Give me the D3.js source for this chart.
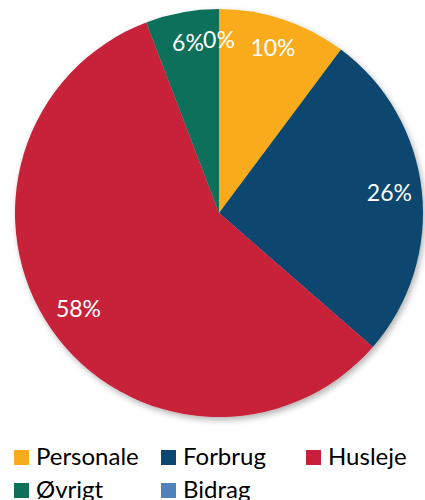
<!DOCTYPE html>
<html><head><meta charset="utf-8">
<script src="https://cdn.jsdelivr.net/npm/d3@7/dist/d3.min.js"></script>
<style>body{margin:0;background:#fff}svg{display:block}</style>
</head><body>
<script>
const categories = ["Personale","Forbrug","Husleje","Øvrigt","Bidrag"];
const values = [10.2, 26.2, 57.8, 5.8, 0];
const labels = ["10%","26%","58%","6%","0%"];
const colors = ["#F9AB1E","#0B4770","#C8203A","#0F705A","#4F81BD"];

const W=425,H=500, cx=219, cy=213, R=204;
const svg=d3.select("body").append("svg").attr("width",W).attr("height",H);
const defs=svg.append("defs");
const f=defs.append("filter").attr("id","sh").attr("x","-10%").attr("y","-10%").attr("width","130%").attr("height","130%");
f.append("feDropShadow").attr("dx",2).attr("dy",3).attr("stdDeviation",3).attr("flood-color","#000").attr("flood-opacity",0.3);

const data=categories.map((c,i)=>({c,v:values[i],l:labels[i],col:colors[i]}));
const pie=d3.pie().value(d=>d.v).sort(null);
const arcs=pie(data);
const arc=d3.arc().innerRadius(0).outerRadius(R);
const g=svg.append("g").attr("transform",`translate(${cx},${cy})`);
g.append("g").attr("filter","url(#sh)").selectAll("path").data(arcs).join("path")
  .attr("d",arc).attr("fill",d=>d.data.col);
const lab=d3.arc().innerRadius(R*0.84).outerRadius(R*0.84);
g.selectAll("text").data(arcs).join("text")
  .attr("transform",d=>{const [x,y]=lab.centroid(d);return `translate(${x},${y-2})`;})
  .attr("text-anchor","middle").attr("dy","0.35em")
  .attr("font-family","Lato, 'Open Sans', sans-serif").attr("font-size",23)
  .attr("fill","#fff").text(d=>d.data.l);

const legPos=[[14,450],[161,450],[306,450],[14,483],[161,483]];
const lg=svg.append("g").selectAll("g").data(data).join("g")
  .attr("transform",(d,i)=>`translate(${legPos[i][0]},${legPos[i][1]})`);
lg.append("rect").attr("width",15).attr("height",15).attr("fill",d=>d.col);
lg.append("text").attr("x",22).attr("y",15).attr("font-family","Lato, 'Open Sans', sans-serif")
  .attr("font-size",24).attr("fill","#000").text(d=>d.c);
</script>
</body></html>
